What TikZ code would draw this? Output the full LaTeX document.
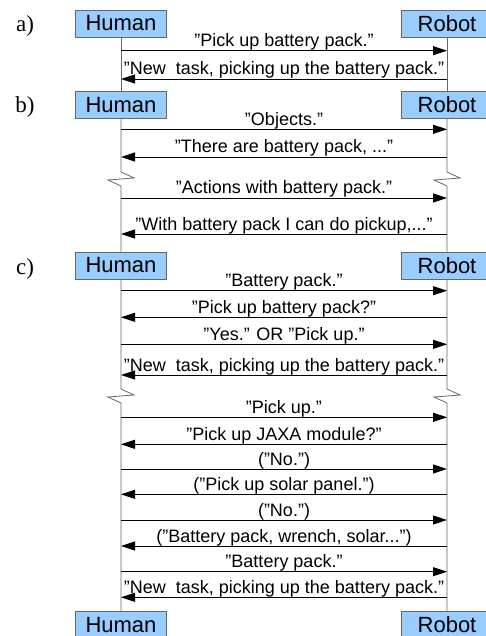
\documentclass[tikz,border=0pt]{standalone}
\usepackage{fontspec}
\setmainfont{Liberation Sans}
\newfontfamily\partfont{Liberation Serif}
\usetikzlibrary{arrows.meta,positioning}
\definecolor{pBlue}{RGB}{153,204,255}
\definecolor{pGray}{gray}{0.4}
\tikzset{
    actor/.style={draw=pGray, fill=pBlue, line width=0.8pt, inner sep=0pt, minimum width=91pt, minimum height=27pt, font=\fontsize{22}{24}\selectfont},
    part/.style={anchor=base, font=\partfont\fontsize{23}{25}\selectfont},
    life/.style={pGray, line width=0.8pt},
    msg/.style={black, line width=0.8pt},
    tor/.style={msg, -{Triangle[length=14pt,width=9pt]}},
    toh/.style={msg, {Triangle[length=14pt,width=9pt]}-},
    lbl/.style={midway, anchor=base, yshift=4pt, inner sep=0pt, font=\fontsize{18}{20}\selectfont}
}

\begin{document}
\begin{tikzpicture}[x=1pt,y=-1pt]
\clip (0,0) rectangle (486,636);
% actors
\node[actor] (hA) at (121,23.5) {Human};
\node[actor] (rA) at (447,23.5) {Robot};
\node[actor] (hB) at (121,105) {Human};
\node[actor] (rB) at (447,105) {Robot};
\node[actor] (hC) at (121,265.5) {Human};
\node[actor] (rC) at (447,265.5) {Robot};
\node[actor] (hD) at (121,625) {Human};
\node[actor] (rD) at (447,625) {Robot};
\node[part] (pA) at (25,32) {a)};
\node[part] (pB) at (25,113) {b)};
\node[part] (pC) at (25,274.3) {c)};
% lifelines with breaks
\coordinate (hbB) at (121,172);
\coordinate (rbB) at (447,172);
\coordinate (hbC) at (121,389);
\coordinate (rbC) at (447,389);
\draw[life] (hA) -- (hB);
\draw[life] (rA) -- (rB);
\draw[life] (hB) -- (hbB) -- ++(13,6) -- ++(-26,2) -- ++(13,6) -- (hC);
\draw[life] (rB) -- (rbB) -- ++(13,6) -- ++(-26,2) -- ++(13,6) -- (rC);
\draw[life] (hC) -- (hbC) -- ++(13,6) -- ++(-26,2) -- ++(13,6) -- (hD);
\draw[life] (rC) -- (rbC) -- ++(13,6) -- ++(-26,2) -- ++(13,6) -- (rD);
% message ends
\foreach \y [count=\i] in {50.7,79,129.3,157,198,234,290.7,317.3,344.3,375,417.3,444.3,469,494.3,520,546,571.7,597.3}
  {\coordinate (h\i) at (121,\y); \coordinate (r\i) at (447,\y);}
% a)
\draw[tor] (h1) -- node[lbl]{”Pick up battery pack.”} (r1);
\draw[toh] (h2) -- node[lbl]{”New\ \ task, picking up the battery pack.”} (r2);
% b)
\draw[tor] (h3) -- node[lbl]{”Objects.”} (r3);
\draw[toh] (h4) -- node[lbl]{”There are battery pack, ...”} (r4);
\draw[tor] (h5) -- node[lbl]{”Actions with battery pack.”} (r5);
\draw[toh] (h6) -- node[lbl]{”With battery pack I can do pickup,...”} (r6);
% c)
\draw[tor] (h7) -- node[lbl]{”Battery pack.”} (r7);
\draw[toh] (h8) -- node[lbl]{”Pick up battery pack?”} (r8);
\draw[tor] (h9) -- node[lbl]{”Yes.” OR ”Pick up.”} (r9);
\draw[toh] (h10) -- node[lbl]{”New\ \ task, picking up the battery pack.”} (r10);
\draw[tor] (h11) -- node[lbl]{”Pick up.”} (r11);
\draw[toh] (h12) -- node[lbl]{”Pick up JAXA module?”} (r12);
\draw[tor] (h13) -- node[lbl]{(”No.”)} (r13);
\draw[toh] (h14) -- node[lbl]{(”Pick up solar panel.”)} (r14);
\draw[tor] (h15) -- node[lbl]{(”No.”)} (r15);
\draw[toh] (h16) -- node[lbl]{(”Battery pack, wrench, solar...”)} (r16);
\draw[tor] (h17) -- node[lbl]{”Battery pack.”} (r17);
\draw[toh] (h18) -- node[lbl]{”New\ \ task, picking up the battery pack.”} (r18);
\end{tikzpicture}
\end{document}
